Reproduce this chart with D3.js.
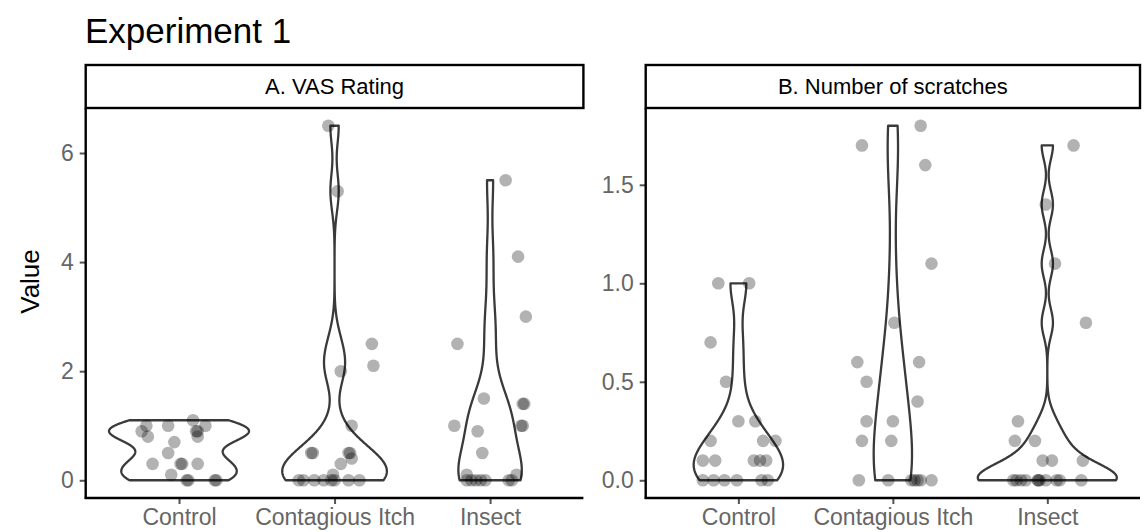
<!DOCTYPE html>
<html>
<head>
<meta charset="utf-8">
<script src="https://cdn.jsdelivr.net/npm/d3@7"></script>
<style>
  html, body { margin: 0; padding: 0; background: #fff; }
  svg { display: block; font-family: "Liberation Sans", Arial, sans-serif; }
</style>
</head>
<body>
<svg id="chart" width="1146" height="532"></svg>
<script>
// ---------- data ----------
const categories = ["Control", "Contagious Itch", "Insect"];
const panelTitles = ["A. VAS Rating", "B. Number of scratches"];
const chartTitle = "Experiment 1";
const yAxisTitle = "Value";

const ticksVAS = [0, 2, 4, 6];
const ticksScratch = [0, 0.5, 1.0, 1.5];

// A. VAS Rating
const vasControl = [1.0, 1.0, 1.1, 1.0, 0.9, 0.9, 0.9, 0.8, 0.8, 0.7, 0.5, 0.3, 0.3, 0.3, 0.3, 0.1, 0, 0, 0, 0];
const vasControlJitter = [-0.21, -0.07, 0.09, 0.17, -0.24, 0.12, 0.11, -0.20, 0.12, -0.03, -0.07, -0.17, 0.01, 0.02, 0.12, -0.05, 0.05, 0.06, 0.23, 0.24];
const vasContagious = [6.5, 5.3, 2.5, 2.1, 2.0, 1.0, 0.5, 0.5, 0.5, 0.5, 0.4, 0.3, 0.1, 0, 0, 0, 0, 0, 0, 0, 0];
const vasContagiousJitter = [-0.04, 0.02, 0.24, 0.25, 0.04, 0.11, -0.15, -0.14, 0.09, 0.10, 0.11, 0.04, -0.01, -0.23, -0.20, -0.13, -0.07, -0.02, 0.00, 0.09, 0.16];
const vasInsect = [5.5, 4.1, 3.0, 2.5, 1.5, 1.4, 1.4, 1.0, 1.0, 1.0, 0.9, 0.5, 0.1, 0.1, 0, 0, 0, 0, 0, 0, 0];
const vasInsectJitter = [0.10, 0.18, 0.23, -0.21, -0.04, 0.21, 0.22, -0.23, 0.20, 0.21, -0.08, -0.05, -0.15, 0.17, -0.15, -0.12, -0.09, -0.06, -0.03, 0.12, 0.14];

// B. Number of scratches
const scrControl = [1.0, 1.0, 0.7, 0.5, 0.3, 0.3, 0.2, 0.2, 0.2, 0.1, 0.1, 0.1, 0.1, 0.1, 0, 0, 0, 0, 0, 0];
const scrControlJitter = [-0.13, 0.07, -0.18, -0.08, 0.00, 0.11, -0.18, 0.16, 0.24, -0.23, -0.15, 0.10, 0.14, 0.18, -0.23, -0.16, -0.09, -0.01, 0.15, 0.19];
const scrContagious = [1.8, 1.7, 1.6, 1.1, 0.8, 0.6, 0.6, 0.5, 0.4, 0.3, 0.3, 0.2, 0.2, 0, 0, 0, 0, 0, 0, 0];
const scrContagiousJitter = [0.18, -0.20, 0.21, 0.25, 0.01, -0.23, 0.17, -0.17, 0.16, -0.17, 0.00, -0.20, -0.01, -0.22, -0.03, 0.12, 0.14, 0.16, 0.18, 0.25];
const scrInsect = [1.7, 1.4, 1.1, 0.8, 0.3, 0.2, 0.2, 0.1, 0.1, 0.1, 0, 0, 0, 0, 0, 0, 0, 0, 0, 0, 0];
const scrInsectJitter = [0.17, -0.01, 0.05, 0.25, -0.19, -0.21, -0.08, -0.03, 0.03, 0.23, -0.22, -0.20, -0.17, -0.14, -0.06, -0.06, -0.05, -0.01, 0.06, 0.08, 0.22];

// ---------- helpers ----------
function bwNrd0(x) {
  const s = x.slice().sort(d3.ascending);
  const n = s.length;
  const hi = d3.deviation(s);
  const iqr = d3.quantileSorted(s, 0.75) - d3.quantileSorted(s, 0.25);
  let lo = Math.min(hi, iqr / 1.34);
  if (!lo) lo = hi || Math.abs(s[0]) || 1;
  return 0.9 * lo * Math.pow(n, -0.2);
}
function kde(x, npts) {
  const bw = bwNrd0(x);
  const mn = d3.min(x), mx = d3.max(x);
  const n = x.length;
  const out = [];
  for (let i = 0; i < npts; i++) {
    const v = mn + (mx - mn) * i / (npts - 1);
    let s = 0;
    for (const xi of x) { const z = (v - xi) / bw; s += Math.exp(-0.5 * z * z); }
    out.push({ v, d: s / (n * bw * Math.sqrt(2 * Math.PI)) });
  }
  return out;
}

// ---------- layout ----------
const svg = d3.select("#chart");
const plotTop = 108, plotBottom = 498, stripTop = 65;
const panels = [
  { title: panelTitles[0], x0: 85.7, x1: 583.4, ydom: [-0.325, 6.825], ticks: ticksVAS, fmt: d3.format("d"),
    groups: [[vasControl, vasControlJitter], [vasContagious, vasContagiousJitter], [vasInsect, vasInsectJitter]] },
  { title: panelTitles[1], x0: 645.7, x1: 1140, ydom: [-0.09, 1.89], ticks: ticksScratch, fmt: d3.format(".1f"),
    groups: [[scrControl, scrControlJitter], [scrContagious, scrContagiousJitter], [scrInsect, scrInsectJitter]] }
];

const tickColor = "#555";
const labelColor = "#666";

panels.forEach(p => {
  const x = d3.scaleLinear().domain([0.4, 3.6]).range([p.x0, p.x1]);
  const y = d3.scaleLinear().domain(p.ydom).range([plotBottom, plotTop]);
  const unit = x(2) - x(1);
  const g = svg.append("g");

  // violins
  const dens = p.groups.map(gr => kde(gr[0], 512));
  const maxD = d3.max(dens, d => d3.max(d, e => e.d));
  dens.forEach((dd, i) => {
    const cx = x(i + 1);
    const area = d3.area()
      .y(d => y(d.v))
      .x0(d => cx - 0.45 * unit * d.d / maxD)
      .x1(d => cx + 0.45 * unit * d.d / maxD);
    g.append("path").attr("d", area(dd))
      .attr("fill", "#fff").attr("stroke", "#3a3a3a").attr("stroke-width", 2.3)
      .attr("stroke-linejoin", "round");
  });

  // points
  p.groups.forEach((gr, i) => {
    gr[0].forEach((v, j) => {
      g.append("circle")
        .attr("cx", x(i + 1 + gr[1][j]))
        .attr("cy", y(v))
        .attr("r", 6.3)
        .attr("fill", "#000").attr("fill-opacity", 0.3);
    });
  });

  // axes
  const yAxis = d3.axisLeft(y).tickValues(p.ticks).tickFormat(p.fmt).tickSize(6).tickPadding(6);
  const ya = svg.append("g").attr("transform", `translate(${p.x0},0)`).call(yAxis);
  const xAxis = d3.axisBottom(x).tickValues([1, 2, 3]).tickFormat(d => categories[d - 1]).tickSize(6).tickPadding(5);
  const xa = svg.append("g").attr("transform", `translate(0,${plotBottom})`).call(xAxis);
  [ya, xa].forEach(a => {
    a.select(".domain").remove();
    a.selectAll(".tick line").attr("stroke", tickColor).attr("stroke-width", 2);
    a.selectAll(".tick text").attr("fill", labelColor).style("font-size", "23px")
      .style("font-family", "'Liberation Sans', Arial, sans-serif");
  });
  // axis lines
  svg.append("line").attr("x1", p.x0).attr("x2", p.x0).attr("y1", plotTop).attr("y2", plotBottom + 1)
    .attr("stroke", "#000").attr("stroke-width", 2.4);
  svg.append("line").attr("x1", p.x0 - 1).attr("x2", p.x1).attr("y1", plotBottom).attr("y2", plotBottom)
    .attr("stroke", "#000").attr("stroke-width", 2.4);

  // strip
  svg.append("rect").attr("x", p.x0).attr("y", stripTop).attr("width", p.x1 - p.x0).attr("height", plotTop - stripTop)
    .attr("fill", "#fff").attr("stroke", "#000").attr("stroke-width", 2.4);
  svg.append("text").attr("x", (p.x0 + p.x1) / 2).attr("y", 94).attr("text-anchor", "middle")
    .style("font-size", "22px").attr("fill", "#000").text(p.title);
});

// titles
svg.append("text").attr("x", 85).attr("y", 43).style("font-size", "35px").attr("fill", "#000").text(chartTitle);
svg.append("text").attr("transform", `translate(39,${(stripTop + plotBottom) / 2}) rotate(-90)`)
  .attr("text-anchor", "middle").style("font-size", "26px").attr("fill", "#000").text(yAxisTitle);
</script>
</body>
</html>
